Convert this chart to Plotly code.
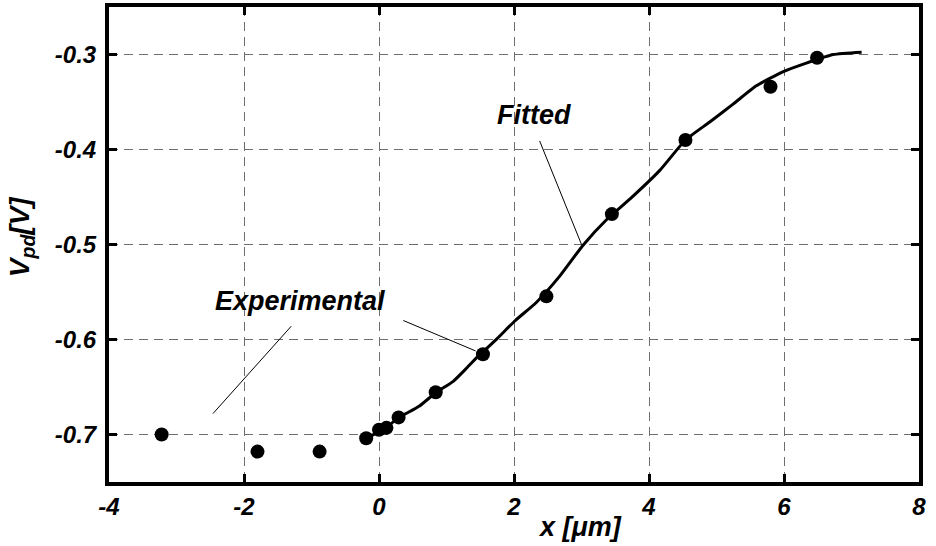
import plotly.graph_objects as go

# Experimental data points
exp_x = [-3.22, -1.80, -0.88, -0.19, 0.0, 0.11, 0.29, 0.84, 1.54, 2.48, 3.45, 4.54, 5.80, 6.49]
exp_y = [-0.700, -0.718, -0.718, -0.704, -0.695, -0.693, -0.682, -0.6555, -0.6155, -0.5546, -0.468, -0.390, -0.334, -0.3034]

# Fitted curve
fit_x = [-0.19, 0.0, 0.15, 0.3, 0.6, 0.84, 1.1, 1.3, 1.49, 1.6, 1.75, 2.02, 2.33, 2.68, 3.02,
         3.37, 3.72, 4.16, 4.54, 4.9, 5.25, 5.59, 5.99, 6.33, 6.73, 7.15]
fit_y = [-0.704, -0.697, -0.690, -0.682, -0.670, -0.656, -0.644, -0.630, -0.616, -0.609, -0.599,
         -0.580, -0.561, -0.533, -0.501, -0.474, -0.452, -0.422, -0.390, -0.371, -0.352, -0.333,
         -0.318, -0.309, -0.300, -0.2975]

x_ticks = [-4, -2, 0, 2, 4, 6, 8]
y_ticks = [-0.7, -0.6, -0.5, -0.4, -0.3]
y_ticktext = ["-0.7", "-0.6", "-0.5", "-0.4", "-0.3"]

FONT = "Liberation Sans, Arial, sans-serif"
bi = dict(family=FONT, color="black", weight="bold", style="italic")

fig = go.Figure()
fig.add_trace(go.Scatter(x=fit_x, y=fit_y, mode="lines", line_shape="spline",
                         line=dict(color="black", width=3, smoothing=0.5), showlegend=False))
fig.add_trace(go.Scatter(x=exp_x, y=exp_y, mode="markers",
                         marker=dict(color="black", size=14), showlegend=False))

# leader lines for labels
leaders = [
    (-2.46, -0.678, -1.30, -0.586),
    (0.36, -0.580, 1.43, -0.612),
    (2.38, -0.391, 3.00, -0.500),
]
for x0, y0, x1, y1 in leaders:
    fig.add_shape(type="line", x0=x0, y0=y0, x1=x1, y1=y1, xref="x", yref="y",
                  line=dict(color="black", width=1))

fig.add_annotation(x=-1.175, y=-0.5598, xref="x", yref="y", text="Experimental",
                   xanchor="center", yanchor="middle",
                   showarrow=False, font=dict(size=27, **bi))
fig.add_annotation(x=2.295, y=-0.3636, xref="x", yref="y", text="Fitted",
                   xanchor="center", yanchor="middle",
                   showarrow=False, font=dict(size=27, **bi))

# axis titles
fig.add_annotation(x=0.582, y=-0.0953, xref="paper", yref="paper", text="x [μm]",
                   xanchor="center", yanchor="middle",
                   showarrow=False, font=dict(size=27, **bi))
fig.add_annotation(x=-0.107, y=0.518, xref="paper", yref="paper", text="V<sub>pd</sub>[V]",
                   xanchor="center", yanchor="middle",
                   textangle=-90, showarrow=False, font=dict(size=28, **bi))

axis_common = dict(
    showline=True, linecolor="black", linewidth=4, mirror="ticks",
    ticks="inside", ticklen=8, tickwidth=3, tickcolor="black",
    showgrid=True, gridcolor="#6e6e6e", gridwidth=1.2, griddash="9px,6px",
    zeroline=False, tickfont=dict(size=24, **bi),
)
fig.update_xaxes(range=[-4, 8], tickvals=x_ticks, ticktext=[str(v) for v in x_ticks],
                 ticklabelstandoff=0, **axis_common)
fig.update_yaxes(range=[-0.75, -0.25], tickvals=y_ticks, ticktext=y_ticktext,
                 ticklabelstandoff=4, **axis_common)

fig.update_layout(
    width=936, height=546,
    margin=dict(l=109, r=17, t=3, b=64),
    plot_bgcolor="white", paper_bgcolor="white",
)

fig.write_html("out.html")
